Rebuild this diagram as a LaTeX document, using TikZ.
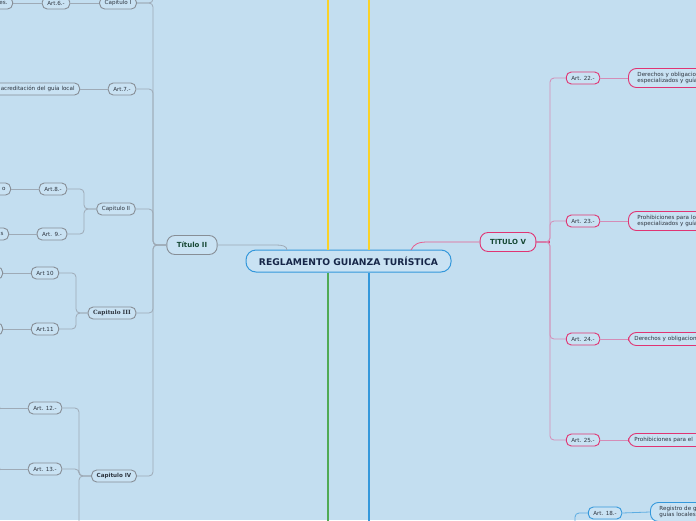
\documentclass[tikz,border=0pt]{standalone}
\usepackage{fontspec}
\setmainfont{DejaVu Sans}
\newfontfamily\capfont{DejaVu Serif}
\usepackage{tikz}
\usetikzlibrary{positioning, calc}
\definecolor{bgcolor}{RGB}{195, 222, 240}
\definecolor{nodefill}{RGB}{201, 226, 243}
\definecolor{nodegray}{RGB}{135, 142, 150}
\definecolor{linegray}{RGB}{158, 170, 182}
\definecolor{pinkcolor}{RGB}{224, 52, 115}
\definecolor{linepink}{RGB}{212, 140, 182}
\definecolor{bluecolor}{RGB}{52, 152, 219}
\definecolor{yellowline}{RGB}{250, 210, 40}
\definecolor{greenline}{RGB}{80, 170, 85}
\definecolor{titlecolor}{RGB}{22, 38, 72}
\definecolor{greentext}{RGB}{22, 72, 52}
\definecolor{textdark}{RGB}{45, 52, 62}

\begin{document}
\begin{tikzpicture}[
    x=1pt, y=-1pt,
    topic/.style={rectangle, draw=nodegray, line width=0.9pt, fill=nodefill, rounded corners=5pt, font=\fontsize{5.6}{6.6}\selectfont, text=textdark, inner xsep=5pt, inner ysep=1pt, minimum height=12pt},
    leftfrag/.style={topic, anchor=east, text width=90pt, align=right},
    pinktopic/.style={topic, draw=pinkcolor},
    pinkleaf/.style={pinktopic, anchor=west, text width=90pt, align=left, rounded corners=8pt, minimum height=19pt, inner xsep=9pt},
    bluetopic/.style={topic, draw=bluecolor},
    titlenode/.style={topic, font=\fontsize{7}{8}\selectfont\bfseries, text=greentext, rounded corners=8pt, minimum height=19pt, inner xsep=10pt},
    maintopic/.style={rectangle, draw=bluecolor, line width=1pt, fill=nodefill, rounded corners=10pt, minimum width=205pt, minimum height=22pt, font=\fontsize{9.2}{11}\selectfont\bfseries, text=titlecolor},
    gline/.style={draw=linegray, line width=0.8pt, rounded corners=4pt},
    pline/.style={draw=linepink, line width=0.8pt, rounded corners=4pt},
    bline/.style={draw=bluecolor!80, line width=0.8pt, rounded corners=4pt}
]
\useasboundingbox (0,0) rectangle (696,520);
\clip (0,0) rectangle (696,520);
\fill[bgcolor] (0,0) rectangle (696,520);

% Central topic
\node[maintopic] (center) at (348.5,261) {REGLAMENTO GUIANZA TURÍSTICA};
\coordinate (ytopA) at (328,-5);
\coordinate (ytopB) at (369,-5);
\coordinate (gbot) at (328,525);
\coordinate (bbot) at (369,525);
\coordinate (tIIin) at (287,250);
\coordinate (tVout) at (411,250);

% Titulo II
\node[titlenode] (titulo2) at (192,245) {Título II};
\coordinate (spine2) at (153,245);
\node[topic] (cap1) at (118,3) {Capitulo I};
\node[topic] (art6) at (56,3) {Art.6.-};
\node[leftfrag] (frag6) at (13,3) {es.};
\node[topic] (art7) at (122,89) {Art.7.-};
\node[leftfrag, text width=110pt] (frag7) at (80,89) {acreditación del guía local};

\node[topic] (cap2) at (116,209) {Capitulo II};
\coordinate (spinec2) at (84,209);
\node[topic] (art8) at (53,189) {Art.8.-};
\node[topic] (art9) at (52,234) {Art. 9.-};
\node[leftfrag] (frag8) at (11,189) {o};
\node[leftfrag] (frag9) at (9,234) {s};

\node[topic, font=\fontsize{5.8}{6.8}\selectfont\capfont\bfseries] (cap3) at (112,313) {Capitulo III};
\coordinate (spinec3) at (76,313);
\node[topic] (art10) at (45,273) {Art 10};
\node[topic] (art11) at (45,329) {Art.11};
\node[leftfrag] (frag10) at (3,273) {};
\node[leftfrag] (frag11) at (3,329) {};

\node[topic, font=\fontsize{5.6}{6.6}\selectfont\bfseries] (cap4) at (114,476) {Capitulo IV};
\coordinate (spinec4) at (79,476);
\node[topic] (art12) at (45,408) {Art. 12.-};
\node[topic] (art13) at (45,469) {Art. 13.-};
\node[leftfrag] (frag12) at (0,408) {};
\node[leftfrag] (frag13) at (0,469) {};
\coordinate (cap4bot) at (79,530);

% Titulo V
\node[titlenode, draw=pinkcolor] (titulo5) at (508,242) {TITULO V};
\coordinate (spine5) at (550,242);
\node[pinktopic] (art22) at (583,78) {Art. 22.-};
\node[pinktopic] (art23) at (583,221) {Art. 23.-};
\node[pinktopic] (art24) at (583,339) {Art. 24.-};
\node[pinktopic] (art25) at (583,440) {Art. 25.-};
\node[pinkleaf] (der22) at (628,78) {Derechos y obligacio\\especializados y guía};
\node[pinkleaf] (pro23) at (628,221) {Prohibiciones para lo\\especializados y guía};
\node[pinkleaf, minimum height=13pt, inner xsep=6pt] (der24) at (628,339) {Derechos y obligacion};
\node[pinkleaf, minimum height=13pt, inner xsep=6pt] (pro25) at (628,440) {Prohibiciones para el};

% Registro
\node[bluetopic] (art18) at (605,513) {Art. 18.-};
\node[bluetopic, anchor=west, text width=90pt, align=left, rounded corners=8pt, minimum height=19pt, inner xsep=9pt] (reg18) at (650,512) {Registro de g\\guías locales};
\coordinate (reg18in) at (575,530);

% Main lines
\draw[yellowline, line width=2pt] (ytopA) -- (center.north -| ytopA);
\draw[yellowline, line width=2pt] (ytopB) -- (center.north -| ytopB);
\draw[greenline, line width=2pt] (center.south -| gbot) -- (gbot);
\draw[bluecolor, line width=2pt] (center.south -| bbot) -- (bbot);

% Connections left
\draw[gline] (titulo2.east) -- (272,245) .. controls (282,245) and (287,246) .. (tIIin);
\draw[gline] (titulo2.west) -- (spine2) |- (cap1.east);
\draw[gline] (titulo2.west) -- (spine2) |- (art7.east);
\draw[gline] (titulo2.west) -- (spine2) |- (cap2.east);
\draw[gline] (titulo2.west) -- (spine2) |- (cap3.east);
\draw[gline] (titulo2.west) -- (spine2) |- (cap4.east);
\draw[gline] (cap1.east) -- (cap1.east -| spine2) -- ++(0,-15);
\draw[gline] (cap1.west) -- (art6.east);
\draw[gline] (art6.west) -- (frag6.east);
\draw[gline] (art7.west) -- (frag7.east);
\draw[gline] (cap2.west) -- (spinec2) |- (art8.east);
\draw[gline] (cap2.west) -- (spinec2) |- (art9.east);
\draw[gline] (art8.west) -- (frag8.east);
\draw[gline] (art9.west) -- (frag9.east);
\draw[gline] (cap3.west) -- (spinec3) |- (art10.east);
\draw[gline] (cap3.west) -- (spinec3) |- (art11.east);
\draw[gline] (art10.west) -- (frag10.east);
\draw[gline] (art11.west) -- (frag11.east);
\draw[gline] (cap4.west) -- (spinec4) |- (art12.east);
\draw[gline] (cap4.west) -- (spinec4) |- (art13.east);
\draw[gline] (cap4.west) -- (spinec4) -- (cap4bot);
\draw[gline] (art12.west) -- (frag12.east);
\draw[gline] (art13.west) -- (frag13.east);

% Connections right
\draw[pinkcolor!80, line width=0.8pt] (tVout) .. controls (414,244) and (418,242) .. (428,242) -- (titulo5.west);
\draw[pinkcolor, line width=1.2pt] (titulo5.east) -- (spine5);
\draw[pline] (titulo5.east) -- (spine5) |- (art22.west);
\draw[pline] (titulo5.east) -- (spine5) |- (art23.west);
\draw[pline] (titulo5.east) -- (spine5) |- (art24.west);
\draw[pline] (titulo5.east) -- (spine5) |- (art25.west);
\draw[pline] (art22.east) -- (der22.west);
\draw[pline] (art23.east) -- (pro23.west);
\draw[pline] (art24.east) -- (der24.west);
\draw[pline] (art25.east) -- (pro25.west);
\draw[bline] (art18.west) -| (reg18in);
\draw[bline] (art18.east) -- (reg18.west);

\end{tikzpicture}
\end{document}
